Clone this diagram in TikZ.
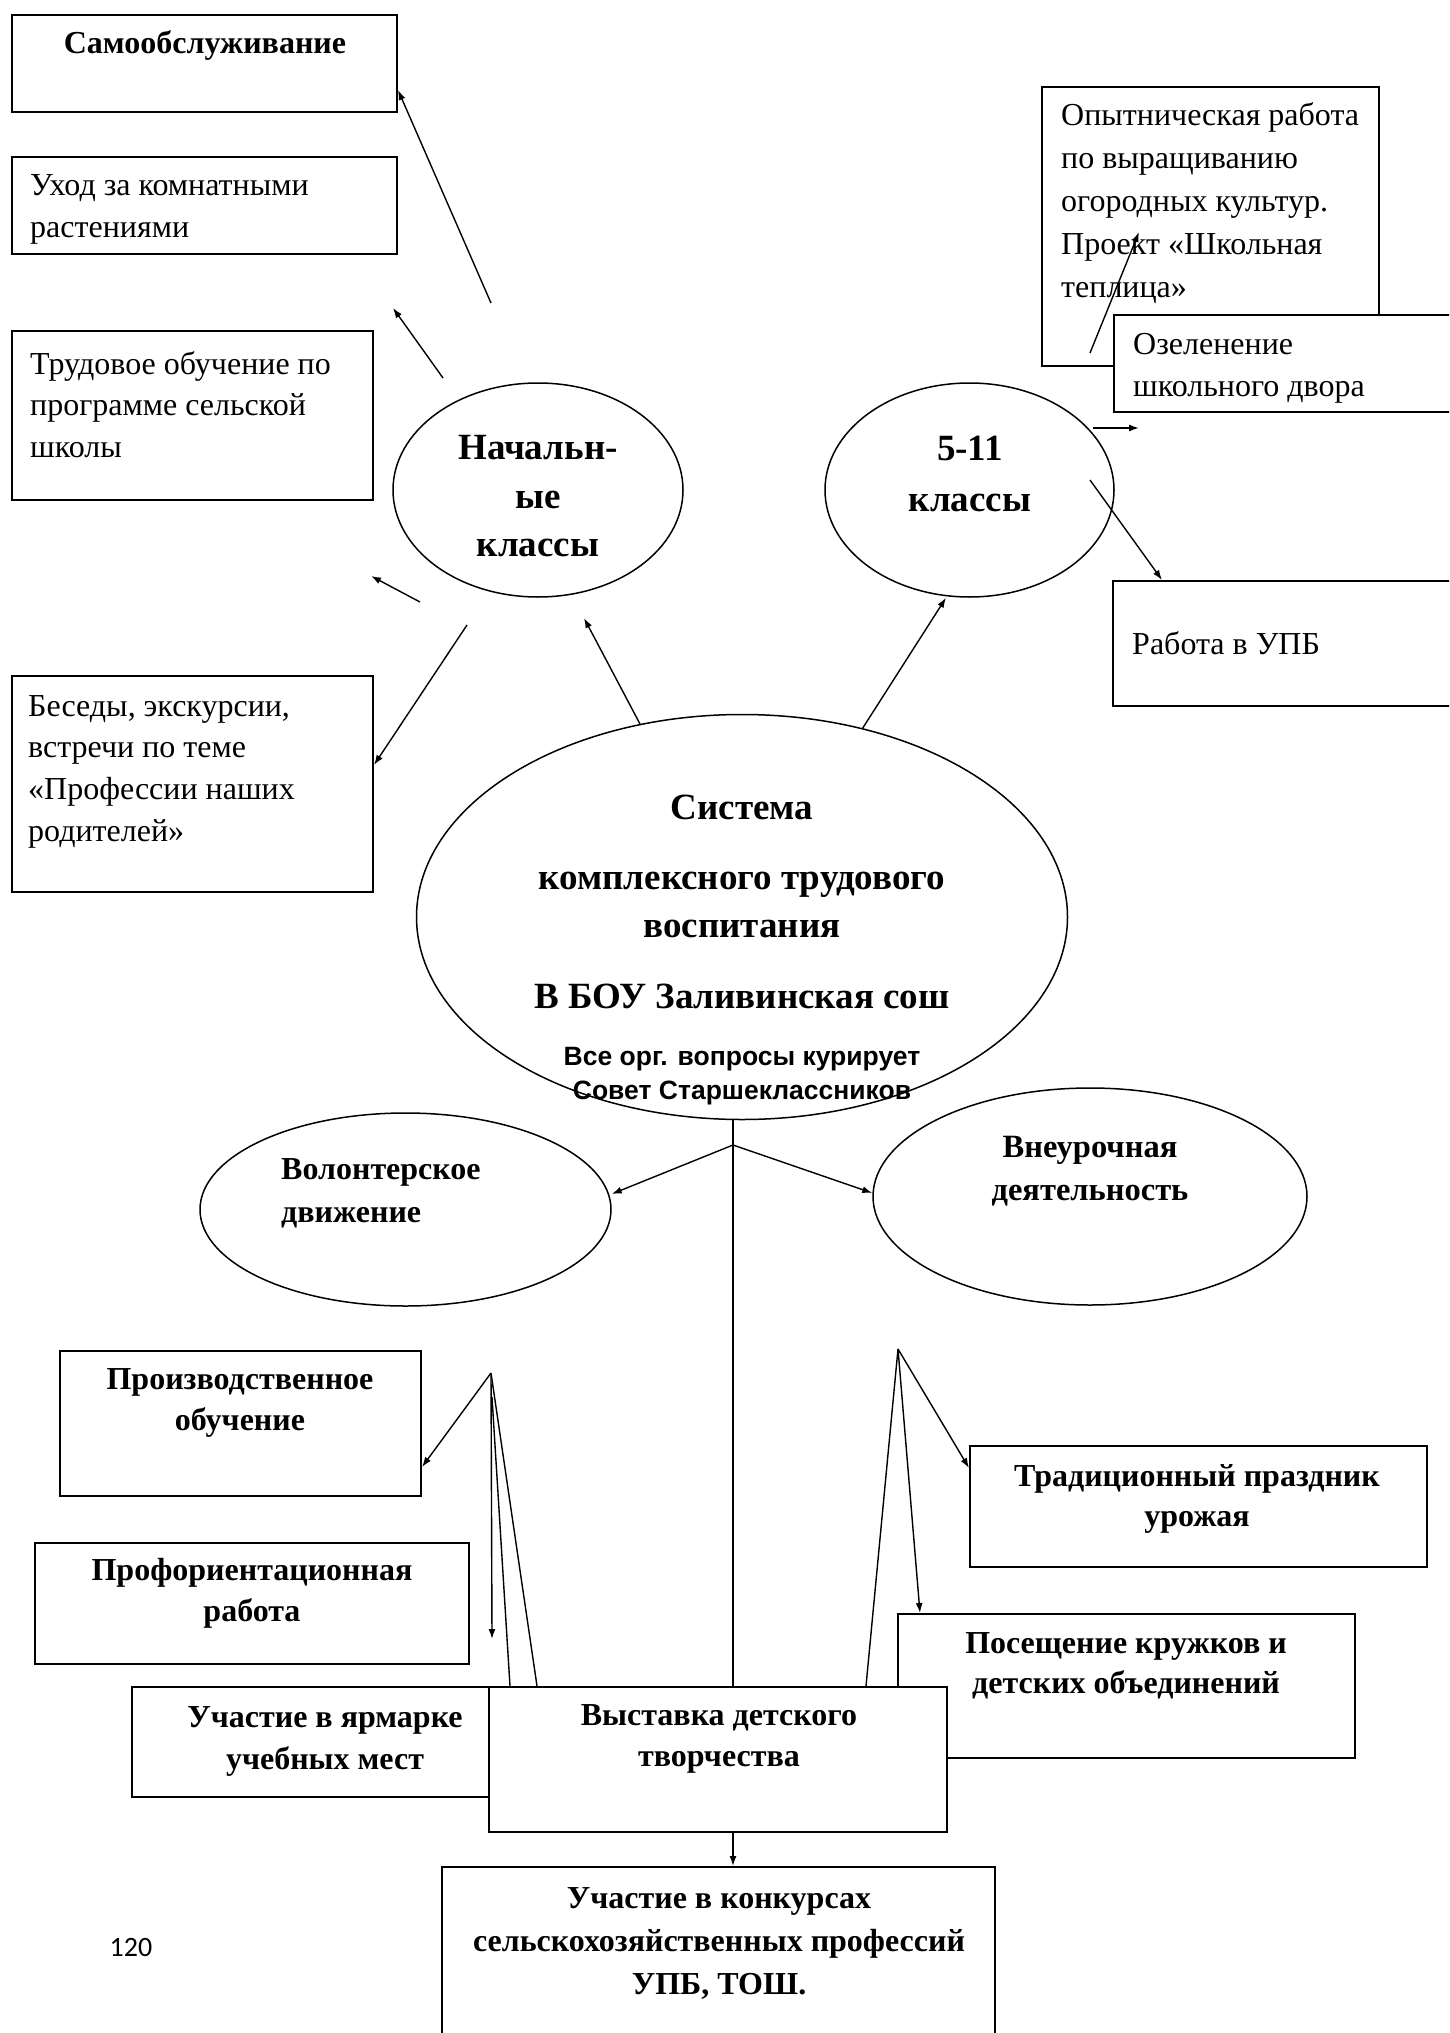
\documentclass[tikz,border=0pt]{standalone}
\usepackage{fontspec}
\setmainfont{Liberation Serif}
\newfontfamily\sansfnt{Liberation Sans}
\newfontfamily\carlfnt{Carlito}
\usetikzlibrary{arrows.meta,shapes.geometric}
\begin{document}
\begin{tikzpicture}[x=1pt,y=-1pt,
  boxs/.style={draw, line width=2pt, fill=white, inner sep=0pt, rectangle},
  ell/.style={draw, ellipse, line width=1.5pt, fill=white, inner sep=0pt},
  conn/.style={line width=1.4pt},
  arr/.style={conn, -{Latex[length=10pt,width=7pt]}},
  reg/.style={inner sep=0pt, anchor=west, align=left, font=\fontsize{32}{42}\selectfont},
  bld/.style={inner sep=0pt, align=center, font=\fontsize{32}{41}\selectfont\bfseries},
]
\useasboundingbox (0,0) rectangle (1449,2033);
\clip (0,0) rectangle (1449,2033);
\fill[white] (0,0) rectangle (1449,2033);

% ---------- boxes ----------
\node[boxs, minimum width=385pt, minimum height=97pt]  (samo)   at (204.5,63.5) {};
\node[boxs, minimum width=385pt, minimum height=97pt]  (ukhod)  at (204.5,205.5) {};
\node[boxs, minimum width=361pt, minimum height=169pt] (trud)   at (192.5,415.5) {};
\node[boxs, minimum width=361pt, minimum height=216pt] (besedy) at (192.5,784) {};
\node[boxs, minimum width=337pt, minimum height=279pt] (opyt)   at (1210.5,226.5) {};
\node[boxs, minimum width=346pt, minimum height=97pt]  (ozel)   at (1287,363.5) {};
\node[boxs, minimum width=347pt, minimum height=125pt] (upb)    at (1286.5,643.5) {};
\node[boxs, minimum width=361pt, minimum height=145pt] (proizv) at (240.5,1423.5) {};
\node[boxs, minimum width=434pt, minimum height=121pt] (profor) at (252,1603.5) {};
\node[boxs, minimum width=457pt, minimum height=121pt] (trad)   at (1198.5,1506.5) {};
\node[boxs, minimum width=408pt, minimum height=110pt] (yarm)   at (336,1742) {};
\node[boxs, minimum width=457pt, minimum height=144pt] (posesh) at (1126.5,1686) {};
\node[boxs, minimum width=458pt, minimum height=145pt] (vyst)   at (718,1759.5) {};
\node[boxs, minimum width=553pt, minimum height=233pt] (konk)   at (718.5,1983.5) {};

% ---------- ellipses ----------
\node[ell, minimum width=290pt, minimum height=214pt] (nach) at (538,490) {};
\node[ell, minimum width=289pt, minimum height=214pt] (cls)  at (969.5,490) {};
\node[ell, minimum width=651pt, minimum height=405pt] (main) at (742,917) {};
\node[ell, minimum width=411pt, minimum height=193pt] (vol)  at (405.5,1209.5) {};
\node[ell, minimum width=434pt, minimum height=217pt] (vne)  at (1090,1196.5) {};

% ---------- texts ----------
\node[bld] (samoT) at (205,46) {Самообслуживание};
\node[reg] (ukhodT) at (30,209.5) {Уход за комнатными\\растениями};
\node[reg, font=\fontsize{32}{41.5}\selectfont] (trudT) at (30,404.5) {Трудовое обучение по\\программе сельской\\школы};
\node[reg, font=\fontsize{32}{41.7}\selectfont] (besedyT) at (28,771.5) {Беседы, экскурсии,\\встречи по теме\\«Профессии наших\\родителей»};
\node[reg, font=\fontsize{32}{43}\selectfont] (opytT) at (1061,203) {Опытническая работа\\по выращиванию\\огородных культур.\\Проект «Школьная\\теплица»};
\node[reg] (ozelT) at (1133,368) {Озеленение\\школьного двора};
\node[reg] (upbT) at (1132,643) {Работа в УПБ};

\node[bld, font=\fontsize{37}{48.5}\selectfont\bfseries] (nachT) at (538,496.5) {Начальн-\\ые\\классы};
\node[bld, font=\fontsize{37}{51}\selectfont\bfseries] (clsT) at (970,473.5) {5-11\\классы};
\node[bld, font=\fontsize{37}{48}\selectfont\bfseries] (mainT) at (742,901.5)
  {Система\\[22pt]комплексного трудового\\воспитания\\[23pt]В БОУ Заливинская сош};
\node[inner sep=0pt, align=center, font=\sansfnt\fontsize{26.5}{34}\selectfont\bfseries] (mainS) at (742,1076)
  {Все орг. вопросы курирует\\Совет Старшеклассников};
\node[bld, anchor=west, align=left, font=\fontsize{32}{43}\selectfont\bfseries] (volT) at (281,1193.5) {Волонтерское\\движение};
\node[bld, font=\fontsize{32.5}{43}\selectfont\bfseries] (vneT) at (1090,1171.5) {Внеурочная\\деятельность};

\node[bld] (proizvT) at (240,1402.5) {Производственное\\обучение};
\node[bld] (proforT) at (252,1593) {Профориентационная\\работа};
\node[bld, font=\fontsize{32}{42}\selectfont\bfseries] (yarmT) at (325,1741) {Участие в ярмарке\\учебных мест};
\node[bld] (vystT) at (719,1738.5) {Выставка детского\\творчества};
\node[bld, font=\fontsize{32}{43}\selectfont\bfseries] (konkT) at (719,1943.5) {Участие в конкурсах\\сельскохозяйственных профессий\\УПБ, ТОШ.};
\node[bld, font=\fontsize{32}{40}\selectfont\bfseries] (tradT) at (1197,1499) {Традиционный праздник\\урожая};
\node[bld, font=\fontsize{32}{40}\selectfont\bfseries] (poseshT) at (1126,1666) {Посещение кружков и\\детских объединений};

\node[inner sep=0pt, font=\carlfnt\fontsize{28}{30}\selectfont] (pagenum) at (131,1947) {120};

% ---------- free ends ----------
\coordinate (c1s) at (491,303);
\coordinate (c2s) at (443,378);
\coordinate (c2e) at (393,308);
\coordinate (c3s) at (420,602);
\coordinate (c3e) at (371,576);
\coordinate (c4s) at (467,625);
\coordinate (c5e) at (584,618);
\coordinate (c7s) at (1090,353);
\coordinate (c7e) at (1139,232);
\coordinate (c8s) at (1093,428);
\coordinate (c8e) at (1139,428);
\coordinate (c9s) at (1090,480);
\coordinate (fk) at (733,1145);
\coordinate (lf) at (491,1373);
\coordinate (lf2) at (492,1397);
\coordinate (lfd) at (492,1639);
\coordinate (rf) at (898,1349);

% ---------- connectors ----------
\draw[arr] (c1s) -- ([yshift=-26.5pt]samo.east);
\draw[arr] (c2s) -- (c2e);
\draw[arr] (c3s) -- (c3e);
\draw[arr] (c4s) -- ([yshift=19pt]besedy.east);
\draw[arr] (main) -- (c5e);
\draw[arr] (main) -- ([xshift=-23.5pt]cls.south);
\draw[arr] (c7s) -- (c7e);
\draw[arr] (c8s) -- (c8e);
\draw[arr] (c9s) -- ([xshift=50pt]upb.north west);

\draw[conn] ([xshift=-9pt]main.south) -- ([xshift=15pt]vyst.north);
\draw[arr] (fk) -- ([yshift=15.5pt]vol.east);
\draw[arr] (fk) -- ([yshift=3.5pt]vne.west);

\draw[arr] (lf) -- ([yshift=-43.5pt]proizv.east);
\draw[arr] (lf) -- (lfd);
\draw[conn] (lf) -- ([xshift=49pt]vyst.north west);
\draw[conn] (lf2) -- ([xshift=22pt]vyst.north west);

\draw[arr] (rf) -- ([yshift=38.5pt]trad.west);
\draw[arr] (rf) -- ([xshift=23pt]posesh.north west);
\draw[conn] (rf) -- ([xshift=-82pt]vyst.north east);

\draw[arr] ([xshift=15pt]vyst.south) -- ([xshift=14.5pt]konk.north);
\end{tikzpicture}
\end{document}
